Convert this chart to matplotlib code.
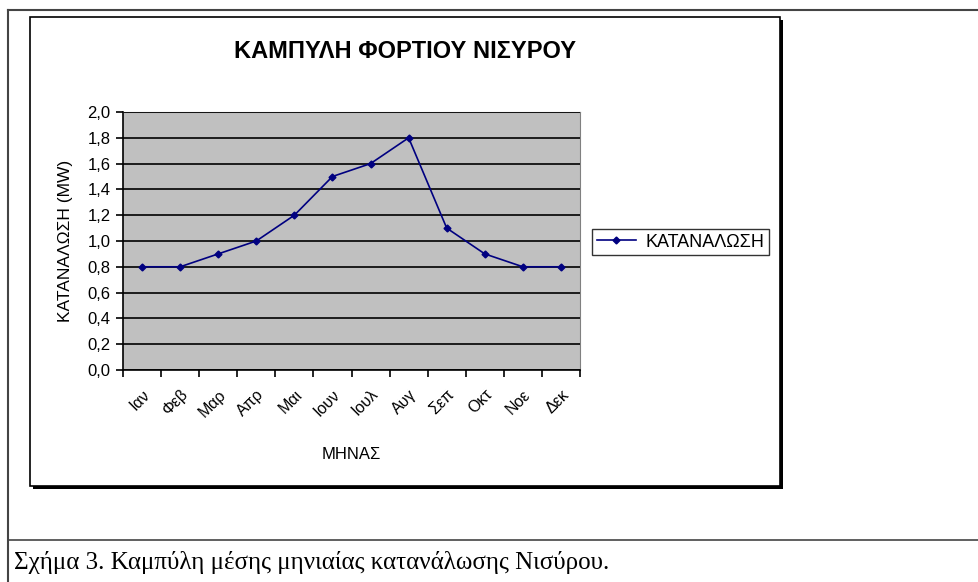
import matplotlib.pyplot as plt
from matplotlib.patches import Rectangle
from matplotlib.lines import Line2D

plt.rcParams['font.family'] = ['Liberation Sans', 'DejaVu Sans']

months = ['Ιαν', 'Φεβ', 'Μαρ', 'Απρ', 'Μαι', 'Ιουν', 'Ιουλ', 'Αυγ', 'Σεπ', 'Οκτ', 'Νοε', 'Δεκ']
load = [0.8, 0.8, 0.9, 1.0, 1.2, 1.5, 1.6, 1.8, 1.1, 0.9, 0.8, 0.8]
yticks = [0.0, 0.2, 0.4, 0.6, 0.8, 1.0, 1.2, 1.4, 1.6, 1.8, 2.0]

W, H = 979, 582
fig = plt.figure(figsize=(W / 100, H / 100), dpi=100)

def px(x0, y0, x1, y1):
    # pixel box (top-left origin) -> figure fraction rect
    return [x0 / W, 1 - y1 / H, (x1 - x0) / W, (y1 - y0) / H]

# document frame
fig.add_artist(Line2D([8 / W, 1], [1 - 10 / H, 1 - 10 / H], color='#444444', lw=1.5))
fig.add_artist(Line2D([8 / W, 8 / W], [0, 1 - 10 / H], color='#444444', lw=1.5))
fig.add_artist(Line2D([8 / W, 1], [1 - 540 / H, 1 - 540 / H], color='#444444', lw=1.2))

# chart box with shadow
fig.add_artist(Rectangle((33 / W, 1 - 489 / H), (783 - 33) / W, (489 - 20) / H,
                         transform=fig.transFigure, facecolor='black', edgecolor='none', zorder=0))
fig.add_artist(Rectangle((30 / W, 1 - 486 / H), (780 - 30) / W, (486 - 17) / H,
                         transform=fig.transFigure, facecolor='white', edgecolor='black', lw=1.2, zorder=0.5))

ax = fig.add_axes(px(123, 112, 580, 370))
ax.set_zorder(5)
ax.set_facecolor('#c0c0c0')
x = range(len(months))
ax.plot(x, load, color='#000080', marker='D', markersize=3.5, lw=1.2, label='ΚΑΤΑΝΑΛΩΣΗ', zorder=3)
ax.set_xlim(-0.5, len(months) - 0.5)
ax.set_ylim(0, 2.0)
ax.set_yticks(yticks)
ax.set_yticklabels([f'{v:.1f}'.replace('.', ',') for v in yticks], fontsize=12)
ax.yaxis.grid(True, color='black', lw=1.2)
ax.set_axisbelow(False)
ax.set_xticks([i - 0.5 for i in range(len(months) + 1)])
ax.set_xticklabels([])
ax.set_xticks(list(x), minor=True)
ax.set_xticklabels(months, minor=True, rotation=45, ha='right', va='top',
                   rotation_mode='anchor', fontsize=11.5)
ax.tick_params(axis='x', which='minor', length=0, pad=12)
ax.tick_params(axis='both', which='major', length=5, width=1.2, direction='out')
ax.tick_params(axis='y', pad=4)
for s in ['top', 'right']:
    ax.spines[s].set_color('#808080')
for s in ['left', 'bottom']:
    ax.spines[s].set_color('black')
    ax.spines[s].set_linewidth(1.2)
ax.set_xlabel('ΜΗΝΑΣ', fontsize=12, labelpad=20)
ax.set_ylabel('ΚΑΤΑΝΑΛΩΣΗ (MW)', fontsize=12.5, labelpad=10)

fig.text(405 / W, 1 - 52 / H, 'ΚΑΜΠΥΛΗ ΦΟΡΤΙΟΥ ΝΙΣΥΡΟΥ', ha='center', va='center',
         fontsize=17, fontweight='bold', zorder=6)

leg = ax.legend(loc='center left', bbox_to_anchor=(592 / W, 1 - 242 / H),
                bbox_transform=fig.transFigure, fontsize=13, frameon=True, fancybox=False,
                handlelength=2.2, borderpad=0.25, borderaxespad=0, handletextpad=0.5)
leg.get_frame().set_edgecolor('black')
leg.get_frame().set_linewidth(1.0)

fig.text(14 / W, 1 - 563 / H, 'Σχήμα 3. Καμπύλη μέσης μηνιαίας κατανάλωσης Νισύρου.',
         ha='left', va='center', fontsize=18, family=['Liberation Serif', 'DejaVu Serif'])

fig.savefig('out.png', dpi=100)
